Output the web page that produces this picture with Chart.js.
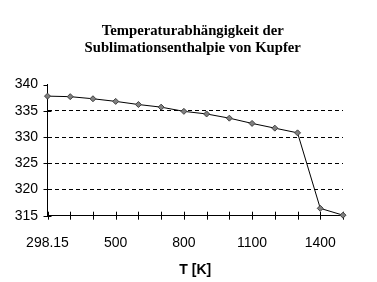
<!DOCTYPE html>
<html lang="de">
<head>
  <meta charset="UTF-8">
  <title>Temperaturabhängigkeit der Sublimationsenthalpie von Kupfer</title>
  <script src="https://cdn.jsdelivr.net/npm/chart.js"></script>
  <style>
    html, body { margin: 0; padding: 0; background: #fff; }
    #wrap { width: 377px; height: 282px; }
  </style>
</head>
<body>
  <div id="wrap"><canvas id="chart"></canvas></div>

  <script>
    // Temperaturen (Kategorien) und Sublimationsenthalpie
    const temperatures = ['298.15', '300', '400', '500', '600', '700', '800', '900', '1000', '1100', '1200', '1300', '1400', '1500'];
    const enthalpy = [337.8, 337.7, 337.3, 336.8, 336.2, 335.7, 334.9, 334.4, 333.6, 332.6, 331.7, 330.8, 316.4, 315.1];
    const yTicks = [315, 320, 325, 330, 335, 340];

    // draws the small "+" tick marks crossing both axes
    const crossTicks = {
      id: 'crossTicks',
      afterLayout(chart) {
        // title is centred over the plot area in the original, not the whole canvas
        if (chart.titleBlock) chart.titleBlock.left = chart.chartArea.left - 5;
      },
      beforeDatasetsDraw(chart) {
        const ctx = chart.ctx;
        const x = chart.scales.x, y = chart.scales.y;
        ctx.save();
        ctx.strokeStyle = '#000';
        ctx.lineWidth = 1;
        ctx.beginPath();
        temperatures.forEach((t, i) => {
          const px = Math.round(x.getPixelForValue(i)) + 0.5;
          ctx.moveTo(px, y.bottom - 4);
          ctx.lineTo(px, y.bottom + 4);
        });
        yTicks.forEach(v => {
          const py = Math.round(y.getPixelForValue(v)) + 0.5;
          ctx.moveTo(x.left - 4, py);
          ctx.lineTo(v === 340 ? x.left : x.left + 4, py);
        });
        ctx.stroke();
        ctx.restore();
      }
    };

    new Chart(document.getElementById('chart'), {
      type: 'line',
      data: {
        labels: temperatures,
        datasets: [{
          data: enthalpy,
          borderColor: '#000',
          borderWidth: 1,
          pointStyle: 'rectRot',
          pointRadius: 3,
          pointBackgroundColor: '#808080',
          pointBorderColor: '#404040',
          pointBorderWidth: 1,
          tension: 0,
          clip: false
        }]
      },
      options: {
        responsive: true,
        maintainAspectRatio: false,
        animation: false,
        layout: { padding: { left: 0, right: 34, top: 0, bottom: 0 } },
        plugins: {
          legend: { display: false },
          tooltip: { enabled: false },
          title: {
            display: true,
            text: ['Temperaturabhängigkeit der', 'Sublimationsenthalpie von Kupfer'],
            color: '#000',
            font: { family: 'Liberation Serif', size: 14.7, weight: 'bold', lineHeight: 1.16 },
            padding: { top: 22.2, bottom: 28.3 }
          }
        },
        scales: {
          x: {
            grid: { display: false, drawTicks: false },
            border: { display: true, color: '#000', width: 1 },
            ticks: {
              autoSkip: false,
              maxRotation: 0,
              padding: 19,
              color: '#000',
              font: { family: 'Liberation Sans', size: 14 },
              callback: (val, i) => i % 3 === 0 ? temperatures[i] : ''
            },
            title: {
              display: true,
              text: 'T [K]',
              color: '#000',
              font: { family: 'Liberation Sans', size: 14, weight: 'bold', lineHeight: 1.2 },
              padding: { top: 0, bottom: 3 }
            },
            afterFit: s => { s.height = 66.3; }
          },
          y: {
            min: 315,
            max: 340,
            grid: {
              drawTicks: false,
              color: c => (c.tick && (c.tick.value === 340 || c.tick.value === 315)) ? 'rgba(0,0,0,0)' : '#000',
              lineWidth: 1
            },
            border: { display: true, color: '#000', width: 1, dash: [4, 3] },
            ticks: {
              stepSize: 5,
              padding: 9.5,
              color: '#000',
              font: { family: 'Liberation Sans', size: 14 }
            },
            afterFit: s => { s.width = 47.5; }
          }
        }
      },
      plugins: [crossTicks]
    });
  </script>
</body>
</html>
